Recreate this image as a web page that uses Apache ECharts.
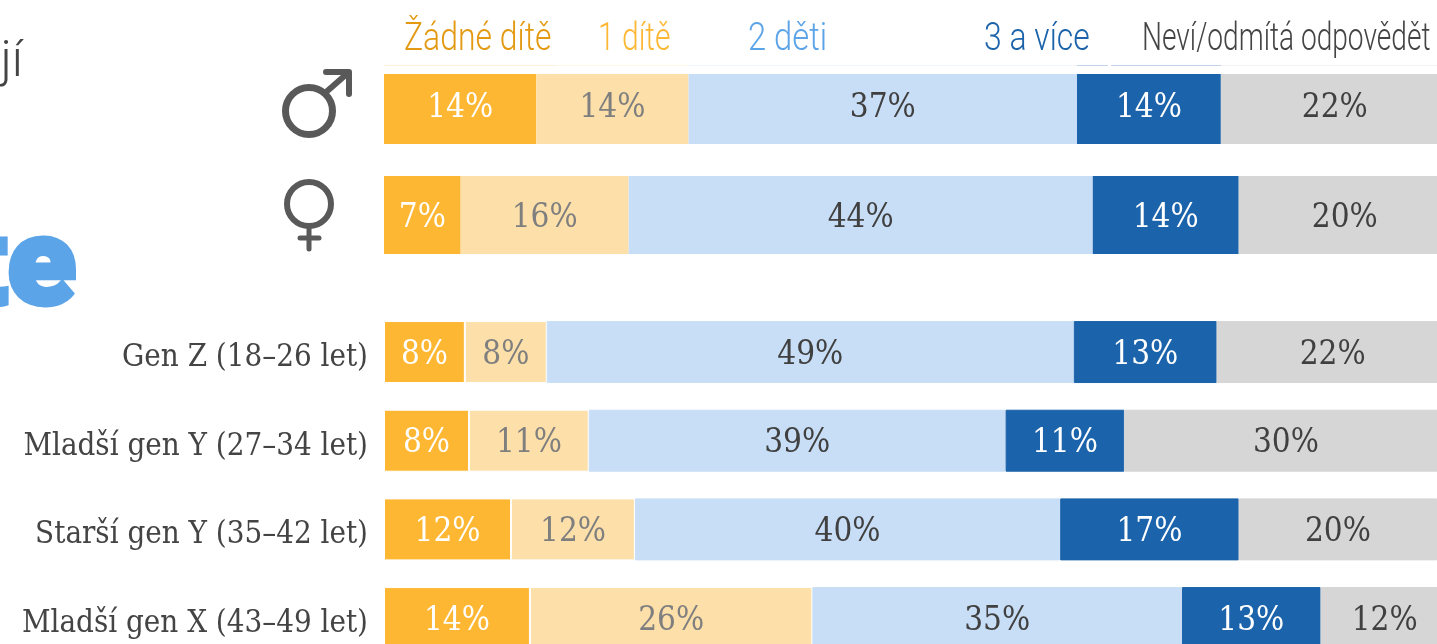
<!DOCTYPE html>
<html>
<head>
<meta charset="utf-8">
<style>
  html, body { margin: 0; padding: 0; background: #fff; overflow: hidden; }
  #main { width: 1437px; height: 644px; }
</style>
<script src="https://cdn.jsdelivr.net/npm/echarts@6/dist/echarts.min.js"></script>
</head>
<body>
<div id="main"></div>
<script>
// legend names, one per stacked segment
var seriesNames = ['Žádné dítě', '1 dítě', '2 děti', '3 a více', 'Neví/odmítá odpovědět'];
var seriesColors = ['#fdb733', '#fde0a9', '#c8def6', '#1b63aa', '#d6d6d6'];
var labelColors = ['#ffffff', '#7f7f7f', '#404040', '#ffffff', '#404040'];
var legendColors = ['#e39a12', '#fdb733', '#5ca4e8', '#1b63aa', '#444444'];

var genCategories = ['Gen Z (18–26 let)', 'Mladší gen Y (27–34 let)', 'Starší gen Y (35–42 let)', 'Mladší gen X (43–49 let)'];

// segment lengths
var maleValues = [14.5, 14.5, 37, 13.7, 21.7];
var femaleValues = [7.3, 16, 44.2, 13.9, 20.2];
var genValues = [
  [7.7, 8.1, 12.1, 13.9],
  [7.8, 11.4, 11.8, 26.9],
  [50.2, 39.7, 40.5, 35.2],
  [13.6, 11.3, 17, 13.2],
  [22.1, 30.8, 18.9, 12.2]
];

// printed percentages
var maleLabels = [14, 14, 37, 14, 22];
var femaleLabels = [7, 16, 44, 14, 20];
var genLabels = [
  [8, 8, 12, 14],
  [8, 11, 12, 26],
  [49, 39, 40, 35],
  [13, 11, 17, 13],
  [22, 30, 20, 12]
];

var labelFont = '"DejaVu Serif Condensed"';

// one stacked bar group per grid
function makeSeries(gridIndex, values, labels, barWidth, gaps, labelShift) {
  return seriesNames.map(function (name, i) {
    return {
      name: name,
      type: 'bar',
      stack: 'g' + gridIndex,
      xAxisIndex: gridIndex,
      yAxisIndex: gridIndex,
      barWidth: barWidth,
      data: values[i],
      itemStyle: {
        color: seriesColors[i],
        borderColor: gaps && i < 2 ? '#fff' : seriesColors[i],
        borderWidth: gaps ? 1 : 0
      },
      label: {
        show: true,
        position: 'inside',
        offset: [0, labelShift],
        fontFamily: labelFont,
        fontSize: 33,
        color: labelColors[i],
        formatter: function (p) { return labels[i][p.dataIndex] + '%'; }
      }
    };
  });
}

function wrap(list) {
  return list.map(function (v) { return [v]; });
}

var series = []
  .concat(makeSeries(0, wrap(maleValues), wrap(maleLabels), 70, false, -1))
  .concat(makeSeries(1, wrap(femaleValues), wrap(femaleLabels), 78, false, 3))
  .concat(makeSeries(2, genValues, genLabels, 62, true, 3));

function valueAxis(gridIndex) {
  return { type: 'value', gridIndex: gridIndex, min: 0, max: 110, show: false };
}

function catAxis(gridIndex, data, showLabels) {
  return {
    type: 'category',
    gridIndex: gridIndex,
    data: data,
    inverse: true,
    axisLine: { show: false },
    axisTick: { show: false },
    axisLabel: {
      show: showLabels,
      margin: 16,
      verticalAlign: 'top',
      lineHeight: 12,
      fontFamily: labelFont,
      fontSize: 31,
      color: '#444444'
    }
  };
}

// header names
var legendPos = [404, 598, 748, 984, 1142];
var legendScale = [0.84, 0.79, 0.86, 0.84, 0.74];
var graphics = seriesNames.map(function (name, i) {
  return {
    type: 'text',
    x: legendPos[i],
    y: 40,
    scaleX: legendScale[i],
    style: {
      text: name,
      fontFamily: 'Roboto',
      fontWeight: 300,
      fontSize: 38,
      fill: legendColors[i],
      textVerticalAlign: 'middle'
    }
  };
});

// pale rule under the header
[[384, 556, '#fdf0d8'], [556, 688, '#fef6e6'], [688, 1077, '#f1f6fc'], [1077, 1108, '#c3d5e8'], [1111, 1221, '#c3d5e8'], [1221, 1437, '#f2f2f2']].forEach(function (s) {
  graphics.push({ type: 'line', shape: { x1: s[0], y1: 65.5, x2: s[1], y2: 65.5 }, style: { stroke: s[2], lineWidth: 1 } });
});

// male symbol
graphics.push({ type: 'circle', shape: { cx: 309, cy: 111, r: 23.5 }, style: { fill: 'none', stroke: '#595959', lineWidth: 7 } });
graphics.push({ type: 'polyline', shape: { points: [[325, 93], [349, 72]] }, style: { stroke: '#595959', lineWidth: 6, fill: 'none' } });
graphics.push({ type: 'polyline', shape: { points: [[326, 72], [349, 72], [349, 94]] }, style: { stroke: '#595959', lineWidth: 6, fill: 'none', lineCap: 'round', lineJoin: 'round' } });
// female symbol
graphics.push({ type: 'circle', shape: { cx: 309, cy: 204, r: 22 }, style: { fill: 'none', stroke: '#595959', lineWidth: 6 } });
graphics.push({ type: 'line', shape: { x1: 309, y1: 229, x2: 309, y2: 249 }, style: { stroke: '#595959', lineWidth: 5, lineCap: 'round' } });
graphics.push({ type: 'line', shape: { x1: 300, y1: 238, x2: 319, y2: 238 }, style: { stroke: '#595959', lineWidth: 5, lineCap: 'round' } });

// cut-off title pieces on the left edge
graphics.push({
  type: 'text', x: 23, y: 63,
  style: { text: 'ují', fontFamily: 'Roboto', fontWeight: 300, fontSize: 50, fill: '#444444', textAlign: 'right', textVerticalAlign: 'middle' }
});
graphics.push({
  type: 'text', x: 76, y: 273, scaleX: 1.03,
  style: { text: 'te', fontFamily: 'Roboto', fontWeight: 900, fontSize: 122, fill: '#5ca4e8', stroke: '#5ca4e8', lineWidth: 5, textAlign: 'right', textVerticalAlign: 'middle' }
});

var chart = echarts.init(document.getElementById('main'), null, { renderer: 'canvas' });
chart.setOption({
  animation: false,
  backgroundColor: '#ffffff',
  grid: [
    { left: 384, top: 70, width: 1155, height: 78, outerBoundsMode: 'none' },
    { left: 384, top: 170, width: 1155, height: 90, outerBoundsMode: 'none' },
    { left: 384, top: 307.7, width: 1155, height: 354.7, outerBoundsMode: 'none' }
  ],
  xAxis: [valueAxis(0), valueAxis(1), valueAxis(2)],
  yAxis: [catAxis(0, ['Muži'], false), catAxis(1, ['Ženy'], false), catAxis(2, genCategories, true)],
  series: series,
  graphic: graphics
});
</script>
</body>
</html>
